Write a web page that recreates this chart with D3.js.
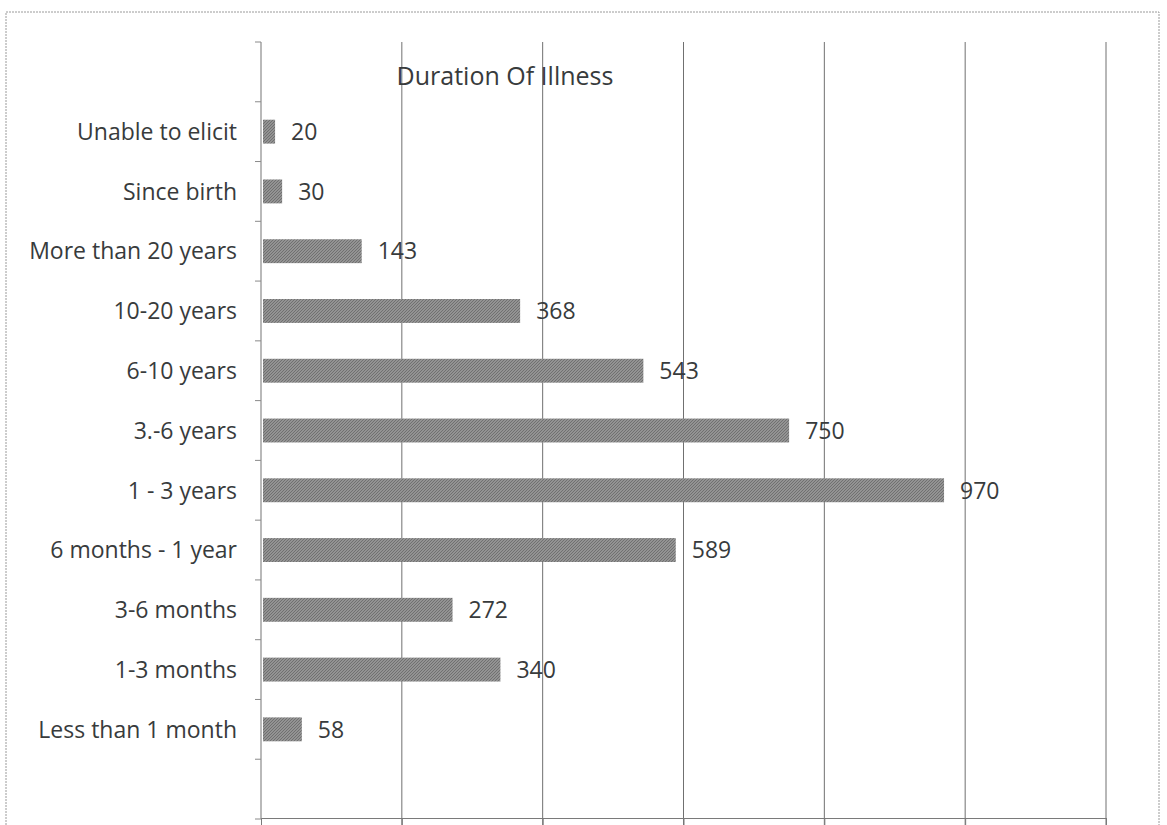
<!DOCTYPE html>
<html><head><meta charset="utf-8">
<script src="https://cdn.jsdelivr.net/npm/d3@7"></script>
<style>
html,body{margin:0;padding:0;background:#fff;}
svg{display:block;}
text{font-family:"Open Sans",Lato,sans-serif;fill:#383b3c;}
</style></head>
<body>
<svg id="chart" width="1167" height="825"></svg>
<script>
const title = "Duration Of Illness";
const categories = ["Unable to elicit","Since birth","More than 20 years","10-20 years","6-10 years","3.-6 years","1 - 3 years","6 months - 1 year","3-6 months","1-3 months","Less than 1 month"];
const values = [20,30,143,368,543,750,970,589,272,340,58];
const xTicks = [0,200,400,600,800,1000,1200];

const svg = d3.select("#chart");
const plotL = 261, plotR = 1106, plotT = 42, plotB = 819;

// outer frame
svg.append("rect").attr("x",6).attr("y",12).attr("width",1153).attr("height",830)
  .attr("fill","none").attr("stroke","#9a9a9a").attr("stroke-width",1).attr("stroke-dasharray","2,1");

const x = d3.scaleLinear().domain([0,1200]).range([plotL,plotR]);
const y = d3.scaleBand().domain(categories).range([plotT,plotB]).paddingInner(0.6).paddingOuter(1.3);
const step = y.step();

// gridlines
svg.append("g").selectAll("line").data(xTicks.slice(1)).join("line")
  .attr("x1",d=>x(d)).attr("x2",d=>x(d)).attr("y1",plotT).attr("y2",plotB+8)
  .attr("stroke","#707070").attr("stroke-width",1);

// bottom axis
const xAxis = d3.axisBottom(x).tickValues(xTicks).tickSize(8).tickFormat("");
const gx = svg.append("g").attr("transform",`translate(0,${plotB-1})`).call(xAxis);
gx.select(".domain").attr("stroke","#7a7a7a");
gx.selectAll(".tick line").attr("stroke","#7a7a7a");

// left axis: boundary ticks
const boundaries = d3.range(categories.length + 3).map(i => plotT + i*step);
svg.append("line").attr("x1",plotL).attr("x2",plotL).attr("y1",plotT).attr("y2",plotB)
  .attr("stroke","#8a8a8a").attr("stroke-width",1.2);
svg.append("g").selectAll("line").data(boundaries).join("line")
  .attr("x1",plotL-6).attr("x2",plotL).attr("y1",d=>d).attr("y2",d=>d)
  .attr("stroke","#8a8a8a").attr("stroke-width",1);

// category labels
svg.append("g").selectAll("text").data(categories).join("text")
  .attr("x",plotL-24).attr("y",d=>y(d)+y.bandwidth()/2).attr("dy","0.36em")
  .attr("text-anchor","end").attr("font-size",23).text(d=>d);

// pattern for scanned halftone look
const defs = svg.append("defs");
const pat = defs.append("pattern").attr("id","ht").attr("patternUnits","userSpaceOnUse").attr("width",3).attr("height",3);
pat.append("rect").attr("width",3).attr("height",3).attr("fill","#939393");
pat.append("path").attr("d","M0,3 L3,0").attr("stroke","#707070").attr("stroke-width",1);

// bars
svg.append("g").selectAll("rect").data(categories).join("rect")
  .attr("x",x(0)+2).attr("y",d=>y(d)).attr("height",y.bandwidth())
  .attr("width",(d,i)=>x(values[i])-x(0)-2)
  .attr("fill","url(#ht)");

// value labels
svg.append("g").selectAll("text").data(categories).join("text")
  .attr("x",(d,i)=>x(values[i])+16).attr("y",d=>y(d)+y.bandwidth()/2).attr("dy","0.36em")
  .attr("font-size",23).text((d,i)=>values[i]);

// title
svg.append("text").attr("x",505).attr("y",85).attr("text-anchor","middle")
  .attr("font-size",25).text(title);
</script>
</body></html>
